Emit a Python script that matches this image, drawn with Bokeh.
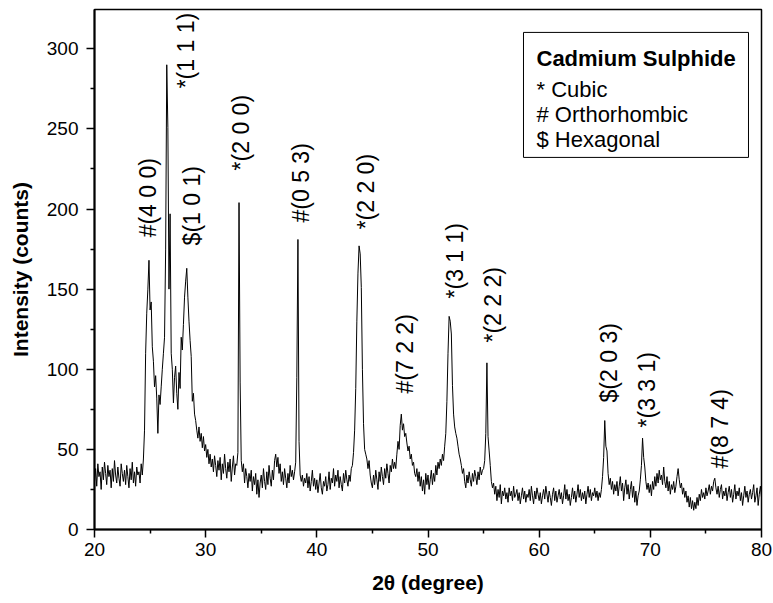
import math
from bokeh.plotting import figure
from bokeh.models import Range1d, Label, BoxAnnotation, FixedTicker, ColumnDataSource
from bokeh.embed import file_html
from bokeh.resources import INLINE

# ---------------- data ----------------
scan_start = 20.0
scan_step = 0.1
intensity = [
    30, 38, 27, 41, 33, 36, 25, 39, 31, 42,        # 20
    35, 28, 40, 33, 37, 26, 38, 30, 43, 34,        # 21
    29, 39, 32, 27, 41, 35, 30, 37, 28, 40,        # 22
    33, 26, 38, 31, 42, 29, 36, 27, 39, 34,        # 23
    36, 29, 41, 34, 44, 62, 110, 135, 150, 168,    # 24
    137, 142, 114, 105, 89, 96, 82, 60, 84, 78,    # 25
    89, 100, 110, 120, 175, 290, 251, 150, 197, 110,  # 26
    100, 79, 95, 102, 85, 75, 98, 88, 120, 112,    # 27
    128, 145, 155, 163, 145, 130, 118, 108, 80, 85,  # 28
    72, 68, 62, 57, 64, 55, 60, 51, 58, 49,        # 29
    53, 45, 50, 41, 47, 39, 44, 36, 46, 40,        # 30
    33, 43, 37, 45, 31, 41, 35, 47, 38, 32,        # 31
    42, 36, 44, 30, 39, 46, 34, 41, 40, 48,        # 32
    204, 92, 43, 36, 41, 29, 38, 33, 26, 35,       # 33
    30, 37, 24, 33, 28, 35, 22, 31, 20, 29,        # 34
    34, 26, 38, 30, 25, 36, 28, 40, 32, 27,        # 35
    37, 31, 43, 47, 39, 45, 35, 41, 30, 36,        # 36
    28, 38, 32, 26, 35, 29, 40, 33, 37, 31,        # 37
    36, 42, 95, 181, 55, 34, 30, 34, 27, 32,       # 38
    29, 35, 26, 33, 24, 30, 37, 27, 32, 25,        # 39
    31, 23, 29, 35, 26, 22, 30, 27, 33, 24,        # 40
    28, 36, 25, 32, 29, 38, 27, 34, 30, 37,        # 41
    26, 33, 28, 24, 35, 29, 37, 31, 27, 34,        # 42
    30, 38, 40, 48, 62, 88, 130, 160, 177, 172,    # 43
    151, 100, 66, 50, 47, 44, 38, 43, 34, 29,      # 44
    26, 34, 28, 37, 31, 25, 36, 30, 39, 33,        # 45
    28, 38, 32, 41, 35, 29, 40, 36, 44, 38,        # 46
    42, 38, 47, 55, 50, 65, 72, 62, 66, 58,        # 47
    60, 54, 49, 52, 44, 47, 40, 42, 35, 33,        # 48
    38, 30, 36, 27, 33, 24, 31, 22, 35, 28,        # 49
    34, 25, 31, 37, 28, 35, 30, 40, 34, 42,        # 50
    38, 44, 40, 47, 43, 52, 60, 80, 110, 133,      # 51
    130, 122, 90, 72, 64, 60, 57, 52, 47, 44,      # 52
    40, 35, 38, 30, 26, 34, 29, 36, 31, 27,        # 53
    35, 30, 37, 33, 28, 36, 31, 39, 34, 37,        # 54
    38, 43, 60, 104, 58, 49, 40, 30, 26, 29,       # 55
    22, 27, 18, 25, 20, 28, 16, 24, 21, 26,        # 56
    19, 23, 17, 26, 21, 24, 18, 27, 20, 22,        # 57
    25, 18, 23, 16, 21, 26, 19, 24, 17, 22,        # 58
    20, 25, 18, 27, 21, 16, 24, 19, 26, 22,        # 59
    18, 23, 16, 21, 25, 19, 27, 22, 17, 24,        # 60
    20, 15, 22, 26, 18, 24, 17, 21, 25, 19,        # 61
    23, 16, 21, 28, 19, 25, 18, 22, 15, 20,        # 62
    26, 19, 24, 17, 22, 28, 20, 25, 18, 23,        # 63
    19, 24, 16, 22, 27, 20, 25, 18, 23, 21,        # 64
    26, 20, 24, 18, 23, 20, 25, 33, 45, 68,        # 65
    52, 49, 35, 28, 32, 25, 30, 22, 28, 24,        # 66
    30, 21, 27, 33, 24, 29, 18, 26, 31, 22,        # 67
    28, 19, 25, 30, 20, 27, 17, 24, 15, 21,        # 68
    24, 31, 40, 57, 45, 39, 30, 25, 29, 23,        # 69
    28, 21, 30, 25, 33, 27, 35, 29, 37, 31,        # 70
    34, 28, 39, 30, 26, 33, 24, 30, 22, 28,        # 71
    25, 30, 23, 27, 33, 38, 31, 26, 29, 22,        # 72
    26, 20, 24, 17, 21, 14, 20, 13, 18, 12,        # 73
    17, 13, 20, 15, 22, 18, 25, 20, 23, 19,        # 74
    26, 21, 24, 28, 22, 27, 24, 30, 32, 26,        # 75
    22, 27, 20, 25, 28, 19, 24, 21, 26, 18,        # 76
    23, 27, 20, 25, 17, 22, 28, 19, 24, 21,        # 77
    26, 18, 23, 15, 21, 27, 20, 24, 17, 22,        # 78
    25, 19, 23, 28, 17, 21, 26, 15, 22, 27,        # 79
    20,                                            # 80
]
two_theta = [round(scan_start + scan_step * i, 2) for i in range(len(intensity))]

x_ticks = [20, 30, 40, 50, 60, 70, 80]
y_ticks = [0, 50, 100, 150, 200, 250, 300]

peak_labels = ["#(4 0 0)", "*(1 1 1)", "$(1 0 1)", "*(2 0 0)", "#(0 5 3)", "*(2 2 0)",
               "#(7 2 2)", "*(3 1 1)", "*(2 2 2)", "$(2 0 3)", "*(3 3 1)", "#(8 7 4)"]

legend_title = "Cadmium Sulphide"
legend_lines = ["* Cubic", "# Orthorhombic", "$ Hexagonal"]

# ---------------- layout (annotation anchors, data units) ----------------
label_x = [24.77, 28.27, 28.81, 33.22, 38.62, 44.46, 47.97, 52.46, 55.88, 66.31, 69.73, 76.29]
label_y = [182.3, 275.3, 177.3, 224.1, 191.6, 187.3, 84.9, 144.2, 116.7, 79.3, 63.7, 38.1]

FONT = "Liberation Sans"

p = figure(width=773, height=603, output_backend="svg", toolbar_location=None,
           x_range=Range1d(20, 80), y_range=Range1d(0, 324.5),
           min_border_left=94, min_border_right=12, min_border_top=9, min_border_bottom=74)
p.grid.visible = False
p.background_fill_color = "white"
p.border_fill_color = "white"
p.outline_line_color = "black"
p.outline_line_width = 1.5
p.outline_line_alpha = 1.0

src = ColumnDataSource(dict(x=two_theta, y=intensity))
p.line("x", "y", source=src, line_color="black", line_width=1)

p.xaxis.ticker = FixedTicker(ticks=x_ticks,
                             minor_ticks=[(a + b) / 2 for a, b in zip(x_ticks, x_ticks[1:])])
p.yaxis.ticker = FixedTicker(ticks=y_ticks,
                             minor_ticks=[(a + b) / 2 for a, b in zip(y_ticks, y_ticks[1:])])
p.xaxis.axis_label = "2θ (degree)"
p.yaxis.axis_label = "Intensity (counts)"
for ax in (p.xaxis[0], p.yaxis[0]):
    ax.axis_line_width = 2
    ax.axis_line_color = "black"
    ax.major_tick_in = 0
    ax.major_tick_out = 8
    ax.minor_tick_in = 0
    ax.minor_tick_out = 4
    ax.major_tick_line_width = 1.5
    ax.minor_tick_line_width = 1.5
    ax.major_tick_line_color = "black"
    ax.minor_tick_line_color = "black"
    ax.major_label_text_font = FONT
    ax.major_label_text_font_size = "19px"
    ax.major_label_text_color = "black"
    ax.axis_label_text_font = FONT
    ax.axis_label_text_font_size = "21px"
    ax.axis_label_text_font_style = "bold"
    ax.axis_label_text_color = "black"
p.xaxis.major_label_standoff = 5
p.xaxis.axis_label_standoff = 12
p.yaxis.major_label_standoff = 8
p.yaxis.axis_label_standoff = 12

for t, lx, ly in zip(peak_labels, label_x, label_y):
    p.add_layout(Label(x=lx, y=ly, text=t, angle=math.pi / 2, text_align="left",
                       text_baseline="middle", text_font=FONT, text_font_size="23px",
                       text_color="black"))

p.add_layout(BoxAnnotation(left=58.59, right=78.83, bottom=232.2, top=310.2,
                           fill_color="white", fill_alpha=1.0,
                           line_color="black", line_width=1, line_alpha=1.0))
legend_y = [274.8, 258.9, 243.6]
p.add_layout(Label(x=59.76, y=293.8, text=legend_title, text_font=FONT,
                   text_font_size="22px", text_font_style="bold",
                   text_baseline="alphabetic", text_color="black"))
for t, ly in zip(legend_lines, legend_y):
    p.add_layout(Label(x=59.76, y=ly, text=t, text_font=FONT, text_font_size="22px",
                       text_baseline="alphabetic", text_color="black"))

open("out.html", "w").write(file_html(p, INLINE))
